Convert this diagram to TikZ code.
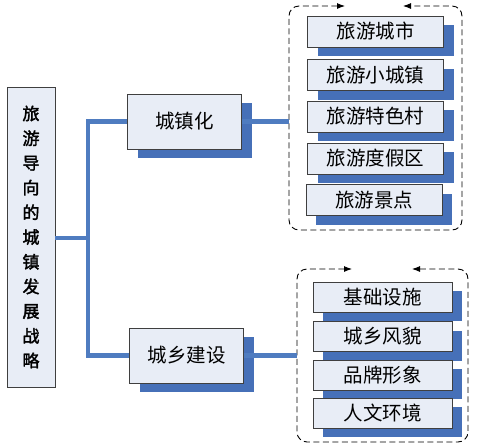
\documentclass[tikz,border=0pt]{standalone}
\usepackage{fontspec}
\usetikzlibrary{shadows,arrows.meta}
\newfontfamily\cjk{Noto Sans CJK SC}
\newfontfamily\cjkbold[FakeBold=2]{Noto Sans CJK SC}
\definecolor{boxfill}{HTML}{E8EDF6}
\definecolor{boxline}{HTML}{3F3F3F}
\definecolor{shade}{HTML}{4670B8}
\definecolor{linkblue}{HTML}{4F7CC0}
\tikzset{
  mainbox/.style={draw=boxline, fill=boxfill, line width=0.8pt, inner sep=0pt, align=center,
    minimum width=48pt, minimum height=300pt, font=\cjkbold\fontsize{17}{24.7}\selectfont},
  box/.style={draw=boxline, fill=boxfill, line width=0.8pt, inner sep=0pt,
    font=\cjk\fontsize{19.5}{19.5}\selectfont,
    drop shadow={shadow xshift=10pt, shadow yshift=-9pt, fill=shade, opacity=1}},
  midbox/.style={box, minimum width=114pt, minimum height=55pt},
  itembox/.style={box, minimum width=136pt, minimum height=31pt},
  linkline/.style={draw=linkblue, line width=4.5pt},
  group/.style={dash pattern=on 6pt off 3.5pt, line width=0.9pt, rounded corners=10pt,
    {Latex[length=8pt,width=6pt]}-{Latex[length=8pt,width=6pt]}}
}
\begin{document}
\begin{tikzpicture}[x=1pt,y=-1pt]
\useasboundingbox (0,0) rectangle (483,445);
% the long box on the left
\node[mainbox] (goal) at (31,237) {旅\\游\\导\\向\\的\\城\\镇\\发\\展\\战\\略};
% the two middle boxes
\node[midbox] (urban) at (184.5,121.5) {城镇化};
\node[midbox] (build) at (186.5,355.5) {城乡建设};
% dashed groups
\draw[group] (345,6) -- (289,6) -- (289,230) -- (462,230) -- (462,6) -- (403,6);
\draw[group] (352,269) -- (297,269) -- (297,442) -- (468,442) -- (468,269) -- (412,269);
\coordinate (urbanin) at (289,120);
\coordinate (buildin) at (297,355);
% items of the first group
\node[itembox] (u1) at (375.5,31.5) {旅游城市};
\node[itembox] (u2) at (375.5,75) {旅游小城镇};
\node[itembox] (u3) at (375.5,116.5) {旅游特色村};
\node[itembox] (u4) at (375.5,158.5) {旅游度假区};
\node[itembox] (u5) at (374,200) {旅游景点};
% items of the second group
\node[itembox, minimum width=139pt, minimum height=30pt] (b1) at (382.5,297) {基础设施};
\node[itembox, minimum width=139pt, minimum height=30pt] (b2) at (382.5,336.5) {城乡风貌};
\node[itembox, minimum width=139pt, minimum height=30pt] (b3) at (382.5,375) {品牌形象};
\node[itembox, minimum width=139pt, minimum height=30pt] (b4) at (382.5,413) {人文环境};
% blue lines
\coordinate (fork) at (88,238);
\draw[linkline] (goal.east |- fork) -- (fork);
\draw[linkline] (urban.west) -| (fork) |- (build.west);
\draw[linkline] (urban.east) -- (urban.east -| urbanin);
\draw[linkline] (build.east) -- (build.east -| buildin);
\end{tikzpicture}
\end{document}
